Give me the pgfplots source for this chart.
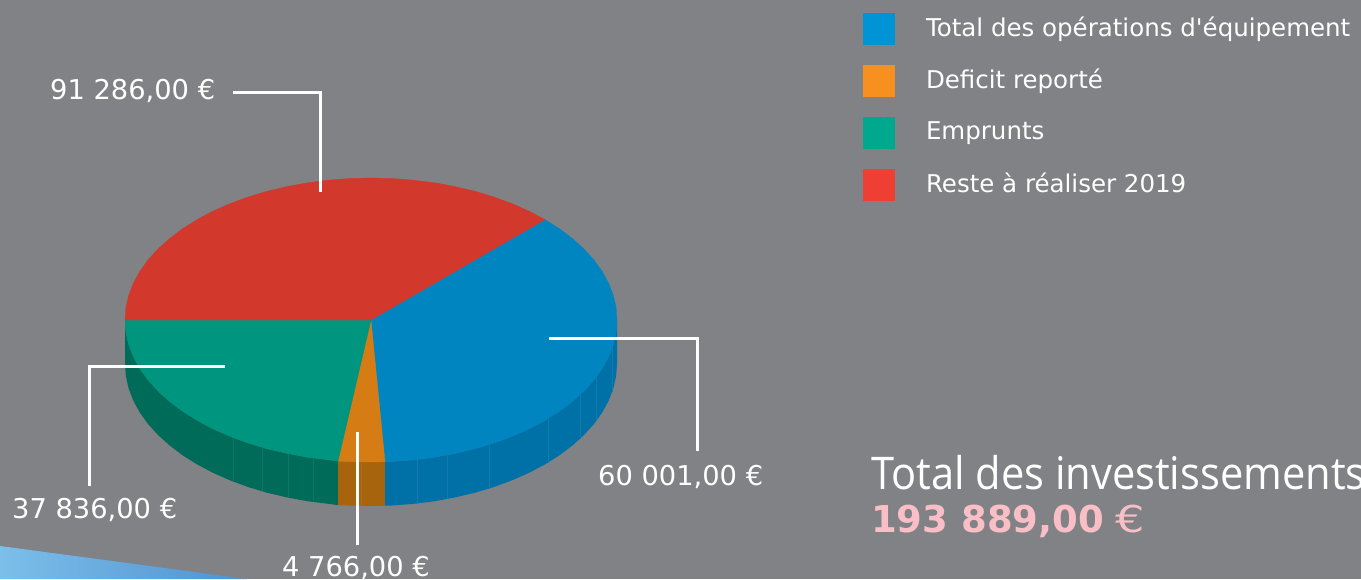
\documentclass[border=0pt]{standalone}
\usepackage{pgfplots}
\pgfplotsset{compat=1.18}
\usepackage{fontspec}
\setmainfont{DejaVu Sans}
\newfontfamily\titlefont[FakeStretch=0.925]{Open Sans}
\newfontfamily\eurofont[FakeStretch=1.25]{DejaVu Sans}
\definecolor{bgc}{HTML}{808285}
\definecolor{tblue}{HTML}{0085C0}
\definecolor{sblue}{HTML}{0071A6}
\definecolor{torange}{HTML}{D67C15}
\definecolor{sorange}{HTML}{A8640C}
\definecolor{tgreen}{HTML}{00957E}
\definecolor{sgreen}{HTML}{006B58}
\definecolor{tred}{HTML}{D2382B}
\definecolor{lblue}{HTML}{0093D6}
\definecolor{lorange}{HTML}{F7901E}
\definecolor{lgreen}{HTML}{00A88E}
\definecolor{lred}{HTML}{EF3E33}
\definecolor{pinkc}{HTML}{F9BEC6}
\definecolor{wedgeL}{HTML}{7CBFEA}
\definecolor{wedgeR}{HTML}{4F91CF}
\begin{document}
\begin{tikzpicture}
\clip (0,0) rectangle (1361pt,579pt);
\fill[bgc] (0,0) rectangle (1361pt,579pt);
\begin{axis}[
  at={(0,0)}, anchor=south west,
  scale only axis, width=1361pt, height=579pt,
  xmin=0, xmax=1361, ymin=0, ymax=579, y dir=reverse,
  hide axis, unbounded coords=jump,
  legend cell align=left,
  legend image code/.code={\draw[#1,draw=none] (0pt,-9pt) rectangle (32pt,23pt);},
  legend style={at={(axis cs:863,13)}, anchor=north west, draw=none, fill=none,
    inner sep=0pt, outer sep=0pt, row sep=20.1pt, column sep=31pt, text=white,
    font=\fontsize{24.5}{24.5}\selectfont,
    nodes={inner sep=0pt, outer sep=0pt, yshift=9pt}},
]
% decorative wedge
\addplot[forget plot, draw=none, left color=wedgeL, right color=wedgeR] coordinates {(0,546) (247,579) (0,579)} --cycle;
% sides
\addplot[forget plot, draw=none, fill=sgreen] coordinates {(125,320)(125.9,332.4)(128.7,344.7)(133.4,356.8)(139.8,368.6)(148,380)(158,391)(169.5,401.4)(182.6,411.3)(197.1,420.4)(212.9,428.8)(229.9,436.3)(248,443)(267,448.7)(286.9,453.4)(307.3,457.2)(328.3,459.8)(338,461.1)(338,505.1)(328.3,503.8)(307.3,501.2)(286.9,497.4)(267,492.7)(248,487)(229.9,480.3)(212.9,472.8)(197.1,464.4)(182.6,455.3)(169.5,445.4)(158,435)(148,424)(139.8,412.6)(133.4,400.8)(128.7,388.7)(125.9,376.4)(125,364)} --cycle;
\addplot[forget plot, draw=none, fill=sorange] coordinates {(338,461.1)(349.5,461.5)(371,462)(385,461.7)(385,505.7)(371,506)(349.5,505.5)(338,505.1)} --cycle;
\addplot[forget plot, draw=none, fill=sblue] coordinates {(385,461.7)(392.5,461.5)(413.7,459.8)(434.7,457.2)(455.1,453.4)(475,448.7)(494,443)(512.1,436.3)(529.1,428.8)(544.9,420.4)(559.4,411.3)(572.5,401.4)(584,391)(594,380)(602.2,368.6)(608.6,356.8)(613.3,344.7)(616.1,332.4)(617,320)(617,364)(616.1,376.4)(613.3,388.7)(608.6,400.8)(602.2,412.6)(594,424)(584,435)(572.5,445.4)(559.4,455.3)(544.9,464.4)(529.1,472.8)(512.1,480.3)(494,487)(475,492.7)(455.1,497.4)(434.7,501.2)(413.7,503.8)(392.5,505.5)(385,505.7)} --cycle;
% facets on the sides
\addplot[forget plot, line width=0.5pt, color=sblue!93!white] coordinates {(417,459.5)(417,503.5)(nan,nan)(447,455)(447,499)(nan,nan)(489,444.5)(489,488.5)(nan,nan)(548,418.6)(548,462.6)(nan,nan)(580,394.8)(580,438.8)(nan,nan)(596,377.4)(596,421.4)(nan,nan)(612,348.4)(612,392.4)};
\addplot[forget plot, line width=0.5pt, color=sgreen!93!white] coordinates {(233,437.5)(233,481.5)(nan,nan)(262,447.3)(262,491.3)(nan,nan)(288,453.7)(288,497.7)(nan,nan)(313,458)(313,502)};
\addplot[forget plot, line width=0.5pt, color=sorange!95!white] coordinates {(361,462)(361,506)};
% top faces
\addplot[draw=tblue, line width=0.3pt, fill=tblue, legend image post style={fill=lblue}] coordinates {(371,320)(544.9,219.6)(559.4,228.7)(572.5,238.6)(584,249)(594,260)(602.2,271.4)(608.6,283.2)(613.3,295.3)(616.1,307.6)(617,320)(616.1,332.4)(613.3,344.7)(608.6,356.8)(602.2,368.6)(594,380)(584,391)(572.5,401.4)(559.4,411.3)(544.9,420.4)(529.1,428.8)(512.1,436.3)(494,443)(475,448.7)(455.1,453.4)(434.7,457.2)(413.7,459.8)(392.5,461.5)(385,461.7)} --cycle;
\addlegendentry{Total des opérations d\textquotesingle équipement}
\addplot[draw=torange, line width=0.3pt, fill=torange, legend image post style={fill=lorange}] coordinates {(371,320)(385,461.7)(371,462)(349.5,461.5)(338,461.1)} --cycle;
\addlegendentry{Deficit reporté}
\addplot[draw=tgreen, line width=0.3pt, fill=tgreen, legend image post style={fill=lgreen}] coordinates {(371,320)(338,461.1)(328.3,459.8)(307.3,457.2)(286.9,453.4)(267,448.7)(248,443)(229.9,436.3)(212.9,428.8)(197.1,420.4)(182.6,411.3)(169.5,401.4)(158,391)(148,380)(139.8,368.6)(133.4,356.8)(128.7,344.7)(125.9,332.4)(125,320)} --cycle;
\addlegendentry{Emprunts}
\addplot[draw=tred, line width=0.3pt, fill=tred, legend image post style={fill=lred}] coordinates {(371,320)(544.9,219.6)(529.1,211.2)(512.1,203.7)(494,197)(475,191.3)(455.1,186.6)(434.7,182.8)(413.7,180.2)(392.5,178.5)(371,178)(349.5,178.5)(328.3,180.2)(307.3,182.8)(286.9,186.6)(267,191.3)(248,197)(229.9,203.7)(212.9,211.2)(197.1,219.6)(182.6,228.7)(169.5,238.6)(158,249)(148,260)(139.8,271.4)(133.4,283.2)(128.7,295.3)(125.9,307.6)(125,320)} --cycle;
\addlegendentry{Reste à réaliser 2019}
% leader lines
\addplot[forget plot, white, line width=3pt] coordinates {(233,92)(320,92)(320,192)};
\addplot[forget plot, white, line width=3pt] coordinates {(549,338)(697,338)(697,451)};
\addplot[forget plot, white, line width=3pt] coordinates {(225,366)(89,366)(89,486)};
\addplot[forget plot, white, line width=3pt] coordinates {(357,432)(357,545)};
% value labels
\node[anchor=base west, inner sep=0pt, text=white, font=\fontsize{27.3}{27.3}\selectfont] at (axis cs:50,99) {91 286,00 €};
\node[anchor=base west, inner sep=0pt, text=white, font=\fontsize{27.3}{27.3}\selectfont] at (axis cs:598,485) {60 001,00 €};
\node[anchor=base west, inner sep=0pt, text=white, font=\fontsize{27.3}{27.3}\selectfont] at (axis cs:12,518) {37 836,00 €};
\node[anchor=base west, inner sep=0pt, text=white, font=\fontsize{27.3}{27.3}\selectfont] at (axis cs:282,576) {4 766,00 €};
\node[anchor=base west, inner sep=0pt, text=white, font=\titlefont\fontsize{45}{45}\selectfont] at (axis cs:871,489) {Total des investissements};
\node[anchor=base west, inner sep=0pt, text=pinkc, font=\fontsize{37}{37}\selectfont] at (axis cs:871,532) {\textbf{193 889,00} {\eurofont €}};
\end{axis}
\end{tikzpicture}
\end{document}
